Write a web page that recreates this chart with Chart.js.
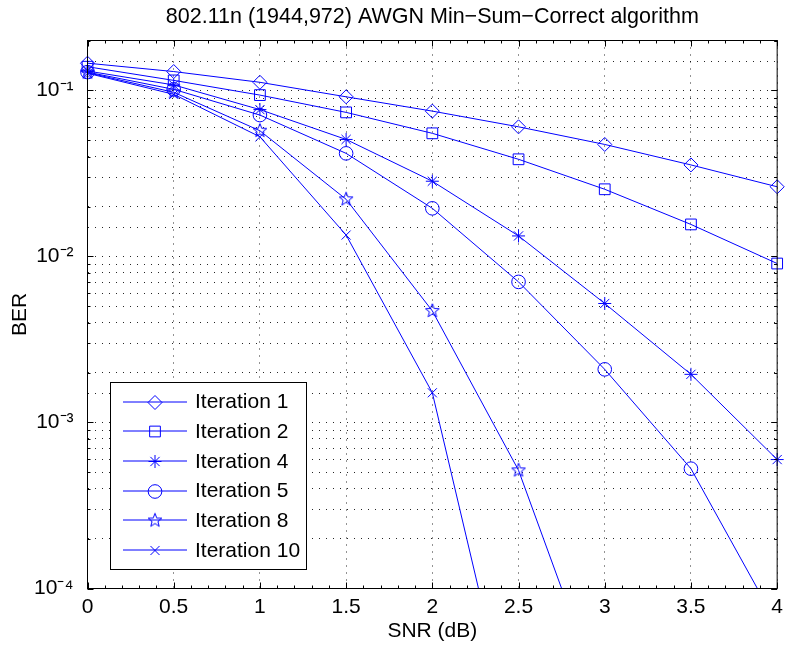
<!DOCTYPE html>
<html><head><meta charset="utf-8">
<script src="https://cdn.jsdelivr.net/npm/chart.js@4.4.1/dist/chart.umd.min.js"></script>
<style>html,body{margin:0;padding:0;background:#fff;} #wrap{width:789px;height:649px;}</style>
</head><body><div id="wrap"><canvas id="c" width="789" height="649"></canvas></div>
<script>
// ---- data ----
const titleText = '802.11n (1944,972) AWGN Min\u2212Sum\u2212Correct algorithm';
const xLabel = 'SNR (dB)';
const yLabel = 'BER';
const snr = [0, 0.5, 1, 1.5, 2, 2.5, 3, 3.5, 4];
const xTicks = [0, 0.5, 1, 1.5, 2, 2.5, 3, 3.5, 4];
const yDecadeTicks = [1e-4, 1e-3, 1e-2, 1e-1];
const yDecadeLabels = ['10\u207B\u2074', '10\u207B\u00B3', '10\u207B\u00B2', '10\u207B\u00B9'];
const seriesLabels = ['Iteration 1', 'Iteration 2', 'Iteration 4', 'Iteration 5', 'Iteration 8', 'Iteration 10'];
const iter1  = [0.146, 0.130, 0.112, 0.0916, 0.0751, 0.0604, 0.0473, 0.0356, 0.0263];
const iter2  = [0.139, 0.115, 0.0938, 0.0738, 0.0552, 0.0385, 0.0254, 0.0156, 0.00907];
const iter4  = [0.131, 0.108, 0.0767, 0.0507, 0.0284, 0.0133, 0.00521, 0.00195, 0.000598];
const iter5  = [0.129, 0.1016, 0.0711, 0.0418, 0.0195, 0.00703, 0.00209, 0.000527, 0.000061];
const iter8  = [0.128, 0.0975, 0.0572, 0.0221, 0.0047, 0.000515, 0.0000194];
const iter10 = [0.127, 0.0948, 0.0526, 0.01346, 0.00151, 0.0000095];
const yMin = 1e-4, yMax = 0.2;

const BLUE = '#0000ff';
const FONT = '"Liberation Sans", Arial, Helvetica, sans-serif';
const FS = 21;

function makePentagram(R, ratio) {
  const s = Math.ceil(R * 2 + 3);
  const cv = document.createElement('canvas');
  cv.width = s; cv.height = s;
  const g = cv.getContext('2d');
  const c = s / 2;
  g.strokeStyle = BLUE; g.lineWidth = 1;
  g.beginPath();
  for (let i = 0; i < 10; i++) {
    const r = (i % 2 === 0) ? R : R * ratio;
    const a = -Math.PI / 2 + i * Math.PI / 5;
    const px = c + r * Math.cos(a), py = c + r * Math.sin(a);
    if (i === 0) g.moveTo(px, py); else g.lineTo(px, py);
  }
  g.closePath(); g.stroke();
  return cv;
}
const starImg = makePentagram(7.2, 0.42);

const styles = [
  { pointStyle: 'rectRot', radius: 7 },
  { pointStyle: 'rect', radius: 7.6 },
  { pointStyle: 'star', radius: 6.5 },
  { pointStyle: 'circle', radius: 6.8 },
  { pointStyle: starImg, radius: 7 },
  { pointStyle: 'crossRot', radius: 6.4 }
];
const seriesData = [iter1, iter2, iter4, iter5, iter8, iter10];

const datasets = seriesData.map((arr, i) => ({
  label: seriesLabels[i],
  data: arr.map((v, j) => ({ x: snr[j], y: v })),
  borderColor: BLUE,
  borderWidth: 1,
  backgroundColor: 'rgba(0,0,0,0)',
  pointStyle: styles[i].pointStyle,
  pointRadius: styles[i].radius,
  pointBorderColor: BLUE,
  pointBackgroundColor: 'rgba(0,0,0,0)',
  pointBorderWidth: 1,
  tension: 0,
  clip: { left: 12, right: 12, top: 12, bottom: 0 }
}));

function isDecade(v) {
  const l = Math.log10(v);
  return Math.abs(l - Math.round(l)) < 1e-9;
}

function drawMarker(ctx, st, x, y) {
  ctx.save();
  ctx.strokeStyle = BLUE; ctx.fillStyle = 'rgba(0,0,0,0)'; ctx.lineWidth = 1;
  if (Chart.helpers && Chart.helpers.drawPoint) {
    Chart.helpers.drawPoint(ctx, { pointStyle: st.pointStyle, radius: st.radius, rotation: 0, borderWidth: 1 }, x, y);
  } else if (typeof st.pointStyle !== 'string') {
    ctx.drawImage(st.pointStyle, x - st.pointStyle.width / 2, y - st.pointStyle.height / 2);
  } else {
    ctx.beginPath(); ctx.arc(x, y, st.radius, 0, Math.PI * 2); ctx.stroke();
  }
  ctx.restore();
}

const framePlugin = {
  id: 'frame',
  afterDraw(chart) {
    const ctx = chart.ctx;
    const a = chart.chartArea;
    const xs = chart.scales.x, ys = chart.scales.y;
    ctx.save();
    // title
    ctx.fillStyle = '#000';
    ctx.font = '21.5px ' + FONT;
    ctx.textAlign = 'center';
    ctx.textBaseline = 'middle';
    ctx.fillText(titleText, (a.left + a.right) / 2, 17);

    // inward ticks
    ctx.strokeStyle = '#000';
    ctx.lineWidth = 1;
    ctx.beginPath();
    for (let v = 0; v <= 4.0001; v += 0.1) {
      const px = Math.round(xs.getPixelForValue(v)) + 0.5;
      const major = Math.abs(v * 2 - Math.round(v * 2)) < 1e-6;
      const len = major ? 6 : 3;
      ctx.moveTo(px, a.bottom); ctx.lineTo(px, a.bottom - len);
      ctx.moveTo(px, a.top); ctx.lineTo(px, a.top + len);
    }
    for (let e = -4; e <= -1; e++) {
      for (let m = 1; m <= 9; m++) {
        const v = m * Math.pow(10, e);
        if (v < yMin - 1e-12 || v > yMax + 1e-12) continue;
        const py = Math.round(ys.getPixelForValue(v)) + 0.5;
        const len = m === 1 ? 6 : 3;
        ctx.moveTo(a.left, py); ctx.lineTo(a.left + len, py);
        ctx.moveTo(a.right, py); ctx.lineTo(a.right - len, py);
      }
    }
    ctx.stroke();
    // frame
    ctx.strokeRect(a.left, a.top, a.right - a.left, a.bottom - a.top);

    // legend
    const lx = 110.5, ly = 382.5, lw = 196, lh = 187;
    ctx.fillStyle = '#fff';
    ctx.fillRect(lx, ly, lw, lh);
    ctx.strokeStyle = '#000';
    ctx.strokeRect(lx, ly, lw, lh);
    ctx.font = FS + 'px ' + FONT;
    ctx.textAlign = 'left';
    ctx.textBaseline = 'middle';
    for (let i = 0; i < seriesLabels.length; i++) {
      const ry = 401.5 + i * 29.7;
      ctx.strokeStyle = BLUE;
      ctx.beginPath();
      ctx.moveTo(123, Math.round(ry)); ctx.lineTo(187, Math.round(ry));
      ctx.stroke();
      drawMarker(ctx, styles[i], 155, Math.round(ry) + 0.5);
      ctx.fillStyle = '#000';
      ctx.fillText(seriesLabels[i], 195, ry + 1);
    }
    ctx.restore();
  }
};

Chart.defaults.font.family = FONT;
Chart.defaults.font.size = FS;
Chart.defaults.color = '#000';

new Chart(document.getElementById('c'), {
  type: 'line',
  data: { datasets },
  options: {
    responsive: false,
    devicePixelRatio: 1,
    animation: false,
    events: [],
    layout: { padding: { top: 40.5, right: 7.5, bottom: 0, left: 0 } },
    plugins: { legend: { display: false }, tooltip: { enabled: false }, title: { display: false } },
    scales: {
      x: {
        type: 'linear',
        min: 0, max: 4,
        afterFit(scale) { scale.height = 60.5; },
        afterBuildTicks(scale) { scale.ticks = xTicks.map(v => ({ value: v })); },
        ticks: { padding: 6, font: { size: FS }, autoSkip: false, maxRotation: 0,
                 callback: (v) => String(v) },
        grid: { color: 'rgba(0,0,0,0.85)', lineWidth: 1, drawTicks: false },
        border: { display: false, dash: [1, 6] },
        title: { display: true, text: xLabel, font: { size: FS }, padding: 5 }
      },
      y: {
        type: 'logarithmic',
        min: yMin, max: yMax,
        afterFit(scale) { scale.width = 87.5; },
        ticks: { padding: 14, font: { size: FS }, autoSkip: false,
                 callback: (v) => {
                   if (!isDecade(v)) return '';
                   const k = yDecadeTicks.findIndex(d => Math.abs(Math.log10(d) - Math.log10(v)) < 1e-9);
                   return k >= 0 ? yDecadeLabels[k] : '';
                 } },
        grid: { color: 'rgba(0,0,0,0.85)', lineWidth: 1, drawTicks: false },
        border: { display: false, dash: [1, 6] },
        title: { display: true, text: yLabel, font: { size: FS }, padding: 8 }
      }
    }
  },
  plugins: [framePlugin]
});
</script>
</body></html>
